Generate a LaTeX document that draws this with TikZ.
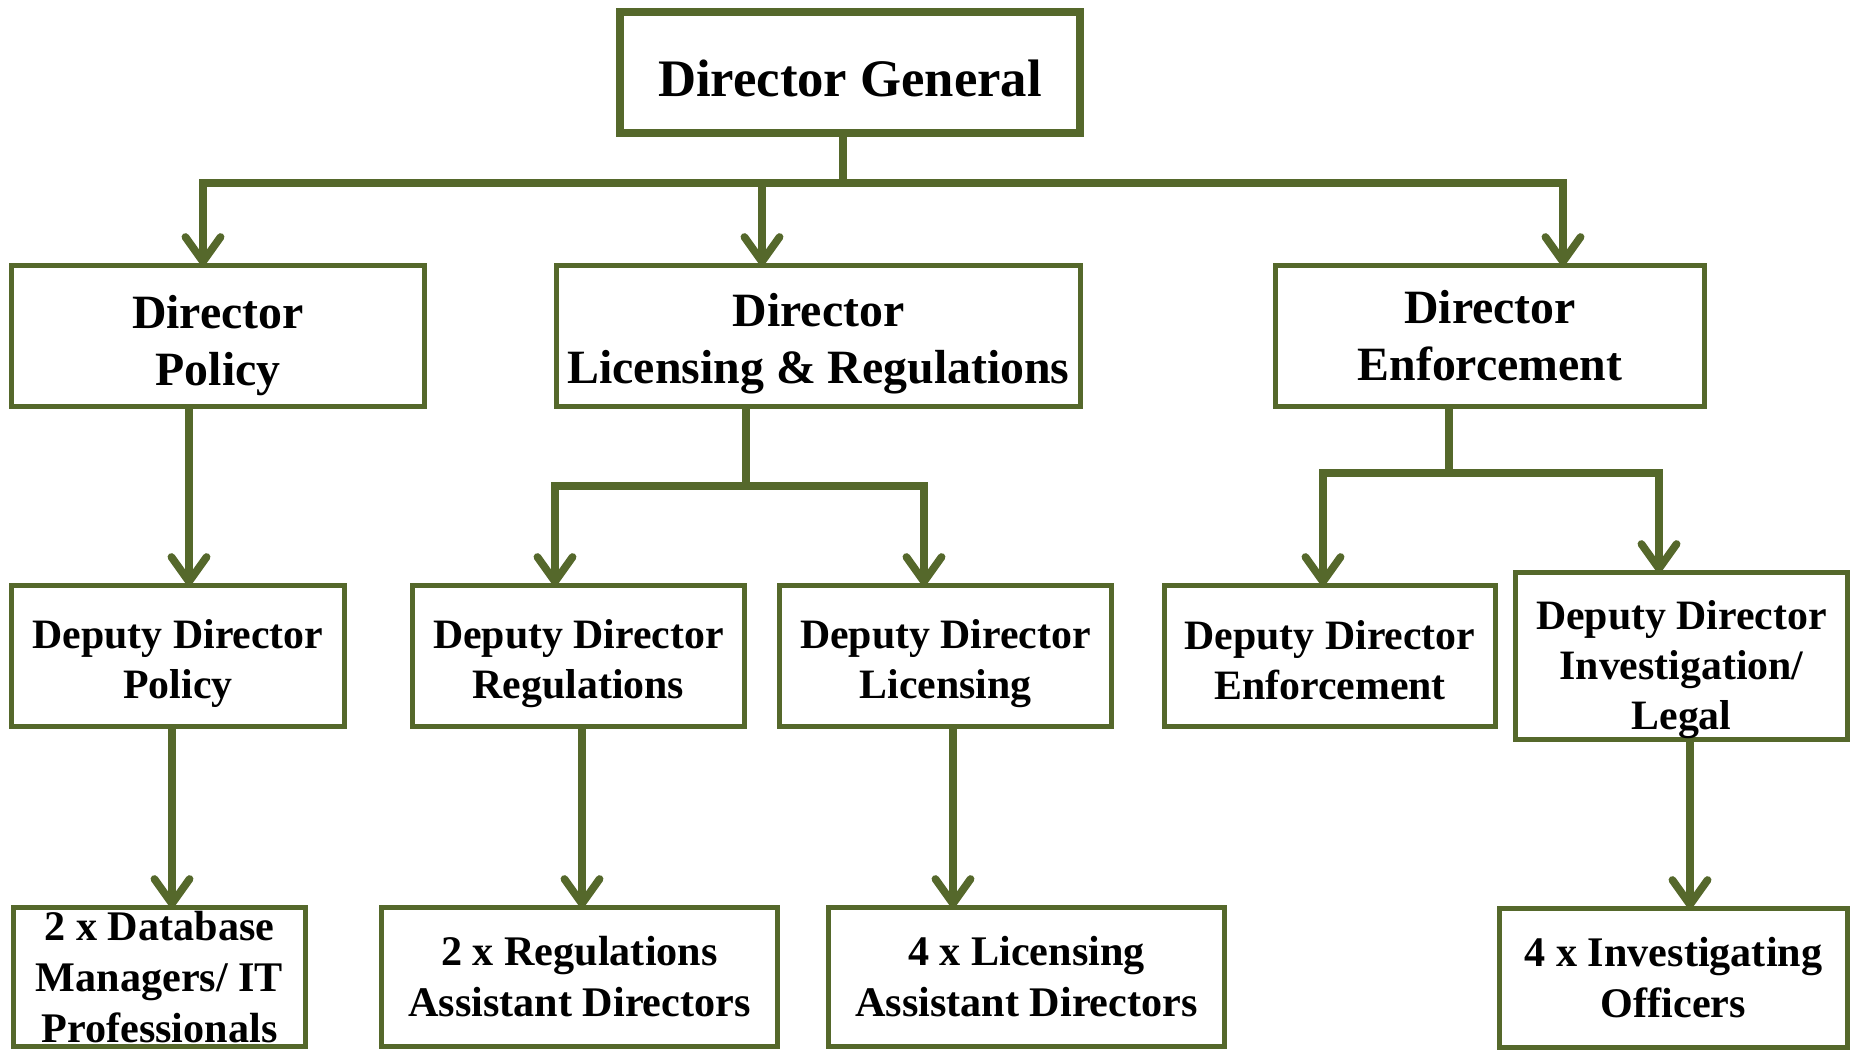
\documentclass[tikz,border=0pt]{standalone}
\usepackage{fontspec}
\setmainfont{Liberation Serif}
\usetikzlibrary{
  positioning,
  arrows.meta,
}
\definecolor{chartgreen}{RGB}{85,104,43}
\tikzset{
  box/.style = {
    rectangle,
    draw = chartgreen,
    fill = white,
    line width = 1.4pt,
    align = center,
    inner sep = 0pt,
    outer sep = 0pt
  },
  head/.style = {
    box,
    line width = 2.3pt,
    minimum width = 4.6cm,
    minimum height = 1.21cm,
    font = \fontsize{15}{18}\selectfont\bfseries
  },
  dir/.style = {
    box,
    minimum width = #1,
    minimum height = 1.41cm,
    font = \fontsize{13.6}{16.2}\selectfont\bfseries
  },
  deputy/.style = {
    box,
    minimum width = #1,
    minimum height = 1.41cm,
    font = \fontsize{11.9}{14.2}\selectfont\bfseries
  },
  staff/.style = {
    box,
    minimum width = #1,
    minimum height = 1.39cm,
    font = \fontsize{12}{14.5}\selectfont\bfseries
  },
  con/.style = {
    -{Straight Barb[round, length = 7pt, width = 10pt]},
    draw = chartgreen,
    line width = 2.2pt
  }
}
% taller first line, so the text sits lower in its box
\newcommand{\textdrop}[1]{\rule{0pt}{\dimexpr 0.68em + #1\relax}}
\newcommand{\connectF}[5]{
  \draw[con] ([xshift = #2]#1.south) -- ++(0, -#3) -| ([xshift = #5]#4.north);
}
\newcommand{\connectD}[3]{
  \draw[con] ([xshift = #2]#1.south) -- ([xshift = #2]#1.south |- #3.north);
}

\begin{document}
\begin{tikzpicture}
  \useasboundingbox (0, 0) rectangle (18.55, -10.52);

  % Director General.
  \node[head] (DG) at (8.5, -0.725) {\textdrop{3.4pt}Director General};

  % Directores.
  \node[dir = 5.24cm] (DLR) [below = 1.325 of DG, xshift = -0.315cm] {\textdrop{4.7pt}Director\\Licensing \& Regulations};
  \node[dir = 4.13cm] (DP) [left = 1.32 of DLR] {\textdrop{5.4pt}Director\\Policy};
  \node[dir = 4.29cm] (DE) [right = 1.95 of DLR] {Director\\Enforcement};

  % Deputy directors.
  \node[deputy = 3.33cm] (DDP) [below = 1.79 of DP, xshift = -0.4cm] {\textdrop{4.4pt}Deputy Director\\Policy};
  \node[deputy = 3.32cm] (DDR) [right = 0.68 of DDP] {\textdrop{4.4pt}Deputy Director\\Regulations};
  \node[deputy = 3.32cm] (DDL) [right = 0.35 of DDR] {\textdrop{4.4pt}Deputy Director\\Licensing};
  \node[deputy = 3.31cm] (DDE) [right = 0.53 of DDL] {\textdrop{2.4pt}Deputy Director\\Enforcement};
  \node[deputy = 3.32cm, minimum height = 1.67cm] (DDI) [right = 0.2 of DDE] {\textdrop{8pt}Deputy Director\\Investigation/\\Legal};

  % Staff.
  \node[staff = 2.92cm] (SDB) [below = 1.81 of DDP, xshift = -0.185cm] {2 x Database\\Managers/ IT\\Professionals};
  \node[staff = 3.96cm] (SRA) [right = 0.76 of SDB] {2 x Regulations\\Assistant Directors};
  \node[staff = 3.96cm] (SLA) [right = 0.51 of SRA] {4 x Licensing\\Assistant Directors};
  \node[staff = 3.48cm] (SIO) [below = 1.69 of DDI, xshift = -0.08cm] {4 x Investigating\\Officers};

  % Conexiones.
  \connectF{DG}{-0.07cm}{0.5}{DP}{-0.15cm};
  \connectF{DG}{-0.07cm}{0.5}{DLR}{-0.565cm};
  \connectF{DG}{-0.07cm}{0.5}{DE}{0.73cm};
  \connectD{DP}{-0.29cm}{DDP};
  \connectF{DLR}{-0.725cm}{0.795}{DDR}{-0.235cm};
  \connectF{DLR}{-0.725cm}{0.795}{DDL}{-0.215cm};
  \connectF{DE}{-0.41cm}{0.665}{DDE}{-0.07cm};
  \connectF{DE}{-0.41cm}{0.665}{DDI}{-0.225cm};
  \connectD{DDP}{-0.06cm}{SDB};
  \connectD{DDR}{0.035cm}{SRA};
  \connectD{DDL}{0.075cm}{SLA};
  \connectD{DDI}{0.085cm}{SIO};
\end{tikzpicture}
\end{document}
